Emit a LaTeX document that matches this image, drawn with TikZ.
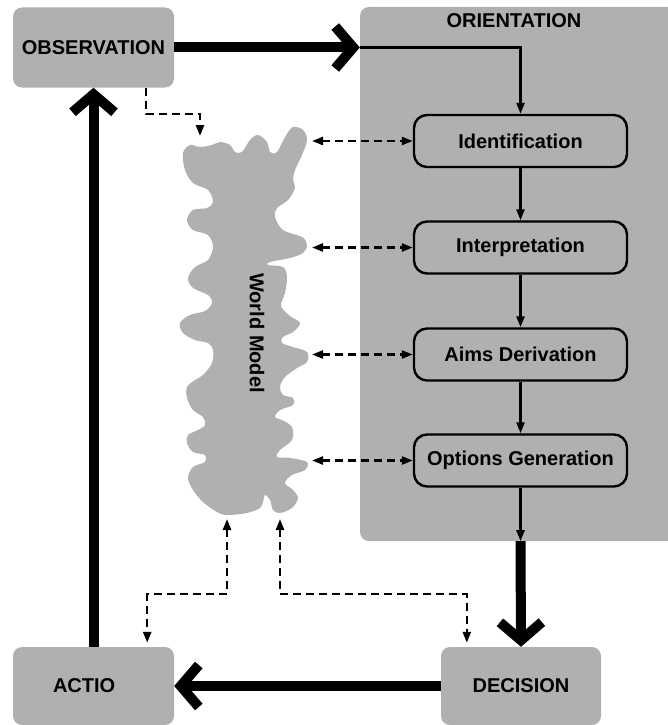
\documentclass[tikz,border=0pt]{standalone}
\usepackage{fontspec}
\setmainfont{Liberation Sans}
\usetikzlibrary{arrows.meta,calc}
\definecolor{boxgray}{RGB}{176,176,176}
\def\boldlabel{\fontsize{20pt}{24pt}\selectfont\bfseries}
\tikzset{
	phase/.style={fill=boxgray, rounded corners=9pt, minimum width=161pt, minimum height=80pt, inner sep=0pt, font=\boldlabel},
	stage/.style={draw, line width=2.4pt, rounded corners=13pt, minimum width=213pt, minimum height=52pt, inner sep=0pt, font=\boldlabel},
	bigarrow/.style={line width=10pt, -{Straight Barb[length=18pt, width=42pt]}},
	thinarrow/.style={line width=2.4pt, -{Triangle[length=11pt, width=8pt]}},
	dasharrow/.style={line width=2.4pt, dash pattern=on 8pt off 5pt, {Triangle[length=11pt, width=8pt]}-{Triangle[length=11pt, width=8pt]}},
	oneway/.style={line width=2.4pt, dash pattern=on 8pt off 5pt, -{Triangle[length=11pt, width=8pt]}}
}

\begin{document}
\begin{tikzpicture}[x=1pt, y=-1pt]
			%%%%% START %%%%%
			\useasboundingbox (0, 0) rectangle (668, 725);
			
			% orientation block
			\node[fill=boxgray, rounded corners=9pt, minimum width=320pt, minimum height=534pt] (orient) at (520, 274) {};
			\node[font=\boldlabel] (orienttitle) at (514, 21) {ORIENTATION};
			
			\node[stage] (ident) at (520.5, 141) {Identification};
			\node[stage] (interp) at (520.5, 247.5) {Interpretation};
			\node[stage] (aims) at (520.5, 354.5) {Aims Derivation};
			\node[stage] (opts) at (520.5, 460.5) {Options Generation};
			
			% the other phases
			\node[phase] (obs) at (93.5, 47.5) {OBSERVATION};
			\node[phase, minimum height=78pt, text width=81pt, align=left] (actio) at (93.5, 686) {ACTIO};
			\node[phase, minimum width=160pt, minimum height=78pt] (decision) at (521, 686) {DECISION};
			
			% world model
			\fill[boxgray] plot[smooth cycle, tension=0.55] coordinates {
				(183, 153) (190, 145) (200, 147) (212, 145) (220, 142) (230, 145) (235, 152) (242, 152)
				(250, 140) (258, 135) (267, 142) (270, 152) (277, 152) (285, 137) (293, 127) (303, 130)
				(307, 140) (302, 155) (295, 170) (293, 180) (295, 188) (288, 200) (277, 208) (275, 217)
				(283, 230) (302, 237) (307, 245) (303, 253) (290, 258) (270, 262) (268, 265) (283, 267)
				(287, 277) (285, 293) (281, 306) (290, 316) (300, 323) (293, 332) (283, 337) (282, 343)
				(293, 347) (307, 352) (307, 362) (297, 368) (285, 377) (280, 387) (283, 395) (293, 398)
				(293, 405) (280, 410) (275, 417) (282, 420) (292, 427) (292, 440) (280, 450) (277, 457)
				(290, 458) (307, 462) (305, 470) (292, 475) (285, 483) (293, 490) (298, 498) (292, 508)
				(280, 513) (273, 510) (270, 500) (265, 495) (263, 502) (260, 508) (247, 513) (227, 515)
				(217, 512) (203, 502) (193, 490) (188, 478) (193, 467) (205, 462) (205, 455) (193, 452)
				(187, 443) (188, 435) (198, 430) (205, 425) (203, 417) (193, 410) (187, 398) (187, 387)
				(195, 380) (203, 375) (212, 363) (213, 350) (208, 343) (195, 340) (183, 333) (180, 323)
				(190, 315) (205, 311) (212, 303) (208, 295) (193, 288) (188, 278) (195, 267) (208, 260)
				(213, 247) (208, 235) (193, 230) (187, 220) (193, 210) (207, 208) (213, 202) (208, 190)
				(193, 183) (185, 170)};
			\node[font=\boldlabel, rotate=-90] (wm) at (257, 333) {World Model};
			\coordinate (wmtop) at (200, 136);
			\coordinate (wmedge) at (312, 0);
			\coordinate (wmbl) at (227, 519);
			\coordinate (wmbr) at (280, 519);
			
			% main loop
			\draw[bigarrow] (obs.east) -- (orient.west |- obs.east);
			\draw[bigarrow] (orient.south -| opts) -- (decision.north);
			\draw[bigarrow] (decision.west) -- (actio.east);
			\draw[bigarrow] (actio.north) -- (obs.south);
			
			% inside orientation
			\draw[thinarrow] (orient.west |- obs.east) -| (ident.north);
			\draw[thinarrow] (ident.south) -- (interp.north);
			\draw[thinarrow] (interp.south) -- (aims.north);
			\draw[thinarrow] (aims.south) -- (opts.north);
			\draw[thinarrow] (opts.south) -- (opts.south |- orient.south);
			
			% world model links
			\draw[oneway] ([xshift=-28pt]obs.south east) -- ++(0, 26) -| (wmtop);
			\foreach \s in {ident, interp, aims, opts}
				\draw[dasharrow] (\s.west -| wmedge) -- (\s.west);
			\draw[dasharrow] (wmbl) -- ++(0, 75) -| ([xshift=-27pt, yshift=4pt]actio.north east);
			\draw[dasharrow] (wmbr) -- ++(0, 75) -| ([xshift=26pt, yshift=4pt]decision.north west);
			
			%%%%% END %%%%%
\end{tikzpicture}
\end{document}
